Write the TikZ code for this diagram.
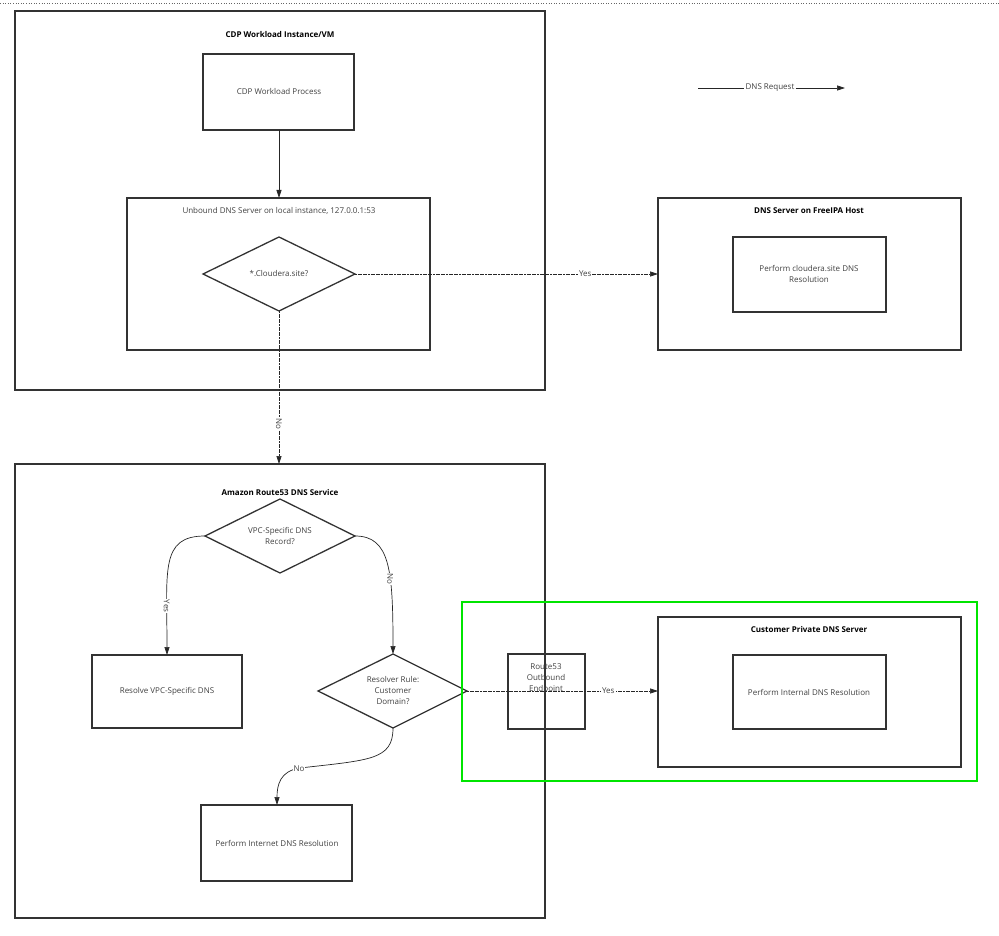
\documentclass[tikz,border=0pt]{standalone}
\usepackage{fontspec}
\setmainfont{Open Sans}
\usetikzlibrary{shapes.geometric,arrows.meta}
\begin{document}
\begin{tikzpicture}[x=1pt,y=-1pt,
  box/.style={draw=black!80,line width=1.3pt},
  txt/.style={font=\fontsize{8}{11}\selectfont,text=black!75,align=center},
  ttl/.style={font=\fontsize{8}{10}\selectfont\bfseries,align=center},
  conn/.style={black!85,line width=0.7pt,dash pattern=on 2pt off 0.6pt,-{Triangle[length=8pt,width=5pt]}},
  lab/.style={font=\fontsize{8}{10}\selectfont,fill=white,inner sep=1pt,text=black!75}]
\useasboundingbox (0,0) rectangle (999,936);
\draw[black!60,dotted,line width=0.6pt] (0,3) -- (999,3);
% box 1
\draw[box] (15,11) rectangle (545,390);
\node[ttl] (t1) at (280,35) {CDP Workload Instance/VM};
\draw[box] (203,54) rectangle (354,130);
\node[txt] (proc) at (279,92) {CDP Workload Process};
\coordinate (procb) at (279,130);
\draw[box] (127,198) rectangle (430,350);
\node[txt] (unb) at (279,211) {Unbound DNS Server on local instance, 127.0.0.1:53};
\coordinate (unbt) at (279,198);
\draw[box] (203,274) -- (279,237) -- (355,274) -- (279,311) -- cycle;
\node[txt] (d1) at (279,274) {*.Cloudera.site?};
\coordinate (d1r) at (355,274); \coordinate (d1b) at (279,311);
\draw[black!85,line width=0.8pt,-{Triangle[length=8pt,width=5pt]}] (procb) -- (unbt);
% FreeIPA
\draw[box] (658,198) rectangle (961,350);
\node[ttl] (t2) at (809,211) {DNS Server on FreeIPA Host};
\draw[box] (733,237) rectangle (886,312);
\node[txt] (fr) at (809,274) {Perform cloudera.site DNS\\Resolution};
\coordinate (frl) at (658,274);
\draw[conn] (d1r) -- node[lab,pos=0.76]{Yes} (frl);
% Route53
\draw[box] (15,464) rectangle (545,918);
\node[ttl] (t3) at (280,492) {Amazon Route53 DNS Service};
\coordinate (r53t) at (279,464);
\draw[conn] (d1b) -- node[lab,rotate=-90,pos=0.735]{No} (r53t);
\draw[box] (205,536) -- (280,499) -- (355,536) -- (280,573) -- cycle;
\node[txt] (d2) at (280,536) {VPC-Specific DNS\\Record?};
\coordinate (d2l) at (205,536); \coordinate (d2r) at (355,536);
\draw[box] (92,655) rectangle (242,728);
\node[txt] (res) at (167,691) {Resolve VPC-Specific DNS};
\coordinate (rest) at (167,655);
\draw[conn,solid] (d2l) .. controls (160,536) and (167,570) .. node[lab,rotate=-90,pos=0.78]{Yes} (rest);
\draw[box] (318,691) -- (393,654) -- (467,691) -- (393,728) -- cycle;
\node[txt] (d3) at (393,691) {Resolver Rule:\\Customer\\Domain?};
\coordinate (d3t) at (393,654); \coordinate (d3r) at (467,691); \coordinate (d3b) at (393,728);
\draw[conn,solid] (d2r) .. controls (390,536) and (393,570) .. node[lab,rotate=-90,pos=0.62]{No} (d3t);
\draw[box] (201,805) rectangle (352,881);
\node[txt] (inet) at (277,843) {Perform Internet DNS Resolution};
\coordinate (inett) at (277,805);
\draw[conn,solid] (d3b) .. controls (393,760) and (370,760) .. (300,768) .. controls (280,771) and (277,785) .. (inett);
\node[lab] (nolab) at (299,769) {No};
% Customer
\draw[box] (508,654) rectangle (585,729);
\node[txt] (ep) at (546,679) {Route53\\Outbound\\Endpoint};
\draw[box] (658,617) rectangle (961,767);
\node[ttl] (t4) at (809,629) {Customer Private DNS Server};
\draw[box] (733,655) rectangle (886,729);
\node[txt] (cp) at (809,692) {Perform Internal DNS Resolution};
\coordinate (cl) at (658,691);
\draw[conn] (d3r) -- node[lab,pos=0.74]{Yes} (cl);
\draw[green!90!black,line width=2.4pt] (462,602) rectangle (977,781);
% legend
\node[lab] (leg) at (770,88) {DNS Request};
\coordinate (l1) at (698,88); \coordinate (l2) at (845,88);
\draw[black!85,line width=0.7pt] (l1) -- (leg.west);
\draw[black!85,line width=0.7pt,-{Triangle[length=8pt,width=5pt]}] (leg.east) -- (l2);
\end{tikzpicture}
\end{document}
